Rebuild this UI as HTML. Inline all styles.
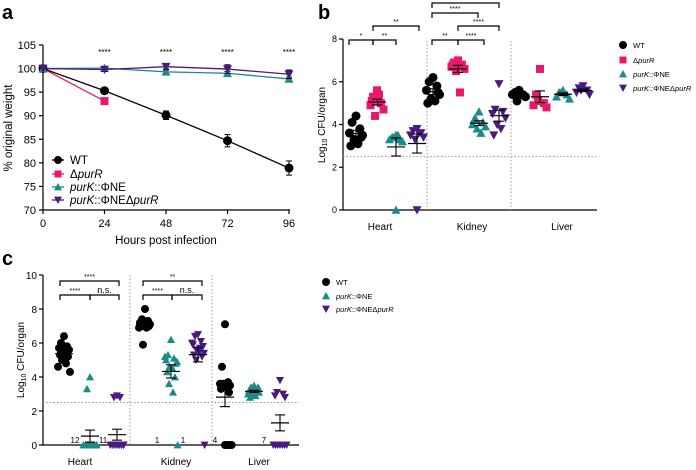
<!DOCTYPE html>
<html><head><meta charset="utf-8"><style>
html,body{margin:0;padding:0;background:#fff}
svg{display:block;font-family:"Liberation Sans",sans-serif}
</style></head><body>
<svg id="fig" width="696" height="470" viewBox="0 0 696 470" xmlns="http://www.w3.org/2000/svg">
<g id="static">
<text x="2" y="19" font-size="20" font-weight="bold">a</text>
<text x="318" y="19" font-size="20" font-weight="bold">b</text>
<text x="2" y="265" font-size="20" font-weight="bold">c</text>
<text x="166" y="244" font-size="11.5" text-anchor="middle">Hours post infection</text>
<text transform="translate(12,128) rotate(-90)" font-size="11.5" text-anchor="middle">% original weight</text>
<text transform="translate(325,125) rotate(-90)" font-size="10" text-anchor="middle">Log<tspan font-size="7" dy="2">10</tspan><tspan dy="-2"> CFU/organ</tspan></text>
<text transform="translate(24,360) rotate(-90)" font-size="10" text-anchor="middle">Log<tspan font-size="7" dy="2">10</tspan><tspan dy="-2"> CFU/organ</tspan></text>
</g>
<g id="dyn"></g>
</svg>
<script>
// ---------- Panel a data ----------
const aHours = [0, 24, 48, 72, 96];
const aYTicks = [70, 75, 80, 85, 90, 95, 100, 105];
const aWT = [100, 95.3, 90.1, 84.7, 78.9];
const aWTerr = [0, 0.4, 0.9, 1.3, 1.5];
const aPurR = [100, 93.1];
const aPhiNE = [100, 100.1, 99.3, 99.0, 97.8];
const aPhiNEerr = [0, 0.3, 0.4, 0.4, 0.4];
const aPhiNEpurR = [100, 99.8, 100.4, 99.9, 98.8];
const aPhiNEpurRerr = [0, 0.4, 0.5, 0.9, 0.9];
const aStars = ["", "****", "****", "****", "****"];
// ---------- Panel b data ----------
const bOrgans = ["Heart", "Kidney", "Liver"];
const bYTicks = [0, 2, 4, 6, 8];
const bHeartWT = [4.4, 4.1, 3.8, 3.6, 3.5, 3.3, 3.1, 3.0, 3.4];
const bHeartPurR = [5.6, 5.3, 5.0, 4.9, 4.7, 4.4, 5.4, 5.1];
const bHeartPhiNE = [3.5, 3.4, 3.3, 3.3, 3.2, 3.4, 3.5, 0];
const bHeartPhiNEpurR = [3.8, 3.7, 3.6, 3.5, 3.4, 3.3, 3.6, 0];
const bKidneyWT = [6.2, 6.0, 5.8, 5.6, 5.4, 5.2, 5.1, 5.0, 5.5];
const bKidneyPurR = [7.0, 6.9, 6.8, 6.7, 6.6, 6.5, 5.5, 6.8];
const bKidneyPhiNE = [4.6, 4.3, 4.1, 4.0, 3.9, 3.8, 3.6, 4.2];
const bKidneyPhiNEpurR = [5.9, 4.7, 4.6, 4.5, 4.3, 4.0, 3.8, 3.5];
const bLiverWT = [5.6, 5.5, 5.4, 5.4, 5.3, 5.1];
const bLiverPurR = [6.6, 5.4, 5.0, 4.9, 4.8, 5.1];
const bLiverPhiNE = [5.6, 5.5, 5.4, 5.3, 5.2, 5.5];
const bLiverPhiNEpurR = [5.8, 5.7, 5.6, 5.5, 5.4, 5.6];
// ---------- Panel c data ----------
const cOrgans = ["Heart", "Kidney", "Liver"];
const cYTicks = [0, 2, 4, 6, 8, 10];
const cHeartWT = [6.4, 6.0, 5.8, 5.7, 5.6, 5.5, 5.4, 5.3, 5.2, 5.0, 4.8, 4.6, 4.3, 5.6];
const cHeartPhiNE = [4.0, 3.3, 0,0,0,0,0,0,0,0,0,0,0,0];
const cHeartPhiNEpurR = [2.9, 2.8, 2.8, 0,0,0,0,0,0,0,0,0,0,0];
const cKidneyWT = [8.0, 7.4, 7.3, 7.2, 7.1, 7.0, 6.9, 7.2, 7.0, 5.9, 7.1, 6.9];
const cKidneyPhiNE = [6.2, 5.3, 5.1, 5.0, 4.8, 4.6, 4.5, 4.3, 4.0, 3.6, 3.1, 5.2, 4.9, 0];
const cKidneyPhiNEpurR = [6.5, 6.4, 6.1, 5.9, 5.8, 5.6, 5.5, 5.3, 5.2, 5.0, 5.7, 6.0, 5.4, 0];
const cLiverWT = [7.1, 4.6, 3.7, 3.6, 3.5, 3.5, 3.4, 3.3, 3.1, 3.6, 0, 0, 0, 0];
const cLiverPhiNE = [3.5, 3.4, 3.3, 3.2, 3.1, 3.0, 2.9, 2.8, 3.4, 3.2, 3.1, 3.0];
const cLiverPhiNEpurR = [3.8, 3.1, 3.0, 2.9, 2.8, 0, 0, 0, 0, 0, 0, 0];
const cCounts = ["12", "11", "1", "1", "4", "7"];

const NS = "http://www.w3.org/2000/svg";
const root = document.getElementById("dyn");
const C = {wt:"#000", purR:"#e8196b", ne:"#1c8a86", nep:"#4a1a80"};
function mk(tag, attrs, parent){const e=document.createElementNS(NS,tag);for(const k in attrs)e.setAttribute(k,attrs[k]);(parent||root).appendChild(e);return e;}
function line(x1,y1,x2,y2,st,w,dash){return mk("line",{x1,y1,x2,y2,stroke:st||"#000","stroke-width":w||1.2,"stroke-dasharray":dash||"none"});}
function txt(x,y,s,size,anchor,parent){const t=mk("text",{x,y,"font-size":size,"text-anchor":anchor||"start"},parent);t.textContent=s;return t;}
function marker(kind,x,y,s,col){
  let e;
  if(kind==="circle") e=mk("circle",{cx:x,cy:y,r:s/2,fill:col});
  else if(kind==="square") e=mk("rect",{x:x-s/2,y:y-s/2,width:s,height:s,fill:col});
  else if(kind==="up") e=mk("polygon",{points:`${x-s/2},${y+s*0.42} ${x+s/2},${y+s*0.42} ${x},${y-s*0.5}`,fill:col});
  else e=mk("polygon",{points:`${x-s/2},${y-s*0.42} ${x+s/2},${y-s*0.42} ${x},${y+s*0.5}`,fill:col});
  return e;
}
const kinds={wt:"circle",purR:"square",ne:"up",nep:"down"};

// ================= Panel a =================
const ax = h => 43 + h*(246/96);
const ay = v => 210 - (v-70)*(165/35);
line(43,ay(105),43,210);
line(43,210,290,210);
aYTicks.forEach(v=>{line(39,ay(v),43,ay(v));const t=txt(36,ay(v)+4,String(v),11,"end");});
aHours.forEach(h=>{line(ax(h),210,ax(h),214);const t=txt(ax(h),227,String(h),11,"middle");});
aStars.forEach((s,i)=>{if(s){const t=txt(ax(aHours[i]),55,s,8,"middle");}});
function aSeries(vals,errs,col,kind,sz,name){
  const pts=vals.map((v,i)=>`${ax(aHours[i])},${ay(v)}`).join(" ");
  const pl=mk("polyline",{points:pts,fill:"none",stroke:col,"stroke-width":1.3});
  
  vals.forEach((v,i)=>{
    const e=errs?errs[i]:0;
    if(e>0){const x=ax(aHours[i]);line(x,ay(v+e),x,ay(v-e),"#000",1);line(x-3,ay(v+e),x+3,ay(v+e),"#000",1);line(x-3,ay(v-e),x+3,ay(v-e),"#000",1);}
    const m=marker(kind,ax(aHours[i]),ay(v),sz,col);
    
  });
}
aSeries(aPurR,null,C.purR,"square",8,"a-purR");
aSeries(aWT,aWTerr,C.wt,"circle",9,"a-wt");
aSeries(aPhiNE,aPhiNEerr,C.ne,"up",9,"a-phine");
aSeries(aPhiNEpurR,aPhiNEpurRerr,C.nep,"down",9,"a-phine-purR");
const aLeg=[["wt",160],["purR",174],["ne",187],["nep",200]];
aLeg.forEach(([k,y])=>{
  line(52,y,64,y,C[k],1.3);
  const m=marker(kinds[k],58,y,k==="purR"?7:8,C[k]);
  const t=mk("text",{x:70,y:y+4,"font-size":11.5});
  
  t.innerHTML = k==="wt"?"WT":k==="purR"?'Δ<tspan font-style="italic">purR</tspan>':k==="ne"?'<tspan font-style="italic">purK</tspan>::ΦNE':'<tspan font-style="italic">purK</tspan>::ΦNEΔ<tspan font-style="italic">purR</tspan>';
});

// ================= dot plots =================
function sem(a){const m=a.reduce((s,v)=>s+v,0)/a.length;const sd=Math.sqrt(a.reduce((s,v)=>s+(v-m)*(v-m),0)/(a.length-1));return [m,sd/Math.sqrt(a.length)];}
function jit(i){const off=[0,-3,3,-5,5,-1.5,1.5,-4,4,-2,2,-6,6,0];return off[i%off.length];}
function dots(vals,x,yf,kind,col,sz,name,zeroSpread,scale){
  vals.forEach((v,i)=>{
    let dx=jit(i)*(scale||1);
    if(v===0&&zeroSpread){dx=((i%7)-3)*2.2;}
    if(v===0&&!zeroSpread){dx=0;}
    const m=marker(kind,x+dx,yf(v),sz,col);
    
  });
  const [m,se]=sem(vals);
  line(x-9,yf(m),x+9,yf(m),"#000",1.2);
  line(x,yf(m+se),x,yf(m-se),"#000",1.1);
  line(x-5,yf(m+se),x+5,yf(m+se),"#000",1.1);
  line(x-5,yf(m-se),x+5,yf(m-se),"#000",1.1);
}
function bracket(x1,x2,y,label,size){
  mk("path",{d:`M${x1},${y+5} V${y} H${x2} V${y+5}`,fill:"none",stroke:"#000","stroke-width":1.2});
  const t=txt((x1+x2)/2,y-2,label,size||7,"middle");
}

// ================= Panel b =================
const by = v => 210 - v*(171/8);
line(343,by(8),343,210);
line(343,210,597,210);
bYTicks.forEach(v=>{line(339,by(v),343,by(v));const t=txt(337,by(v)+3,String(v),9,"end");});
line(427,by(8)+2,427,210,"#999",1,"1.5,2");line(511,by(8)+2,511,210,"#999",1,"1.5,2");
line(343,by(2.5),597,by(2.5),"#999",1,"1.5,2");
const bCenters=[380,472,562];
bOrgans.forEach((o,i)=>{const t=txt(bCenters[i],230,o,10,"middle");});
const bCols=[[356,377,396,417],[433,458,479,499],[519,540,563,583]];
const bData=[[bHeartWT,bHeartPurR,bHeartPhiNE,bHeartPhiNEpurR],[bKidneyWT,bKidneyPurR,bKidneyPhiNE,bKidneyPhiNEpurR],[bLiverWT,bLiverPurR,bLiverPhiNE,bLiverPhiNEpurR]];
const ord=["wt","purR","ne","nep"];
bData.forEach((grp,gi)=>grp.forEach((vals,si)=>dots(vals,bCols[gi][si],by,kinds[ord[si]],C[ord[si]],ord[si]==="purR"?8:9,"b-"+bOrgans[gi].toLowerCase()+"-"+ord[si],false,1.3)));
bracket(349,373,40,"*");bracket(373,396,40,"**");bracket(373,419,26,"**");
bracket(432,458,40,"**");bracket(458,484,40,"****");bracket(458,499,26,"****");bracket(432,478,13,"****");bracket(432,499,3,"**");
const bLeg=[["wt",45],["purR",60],["ne",74],["nep",88]];
bLeg.forEach(([k,y])=>{
  const m=marker(kinds[k],623,y,k==="purR"?7:8,C[k]);
  const t=mk("text",{x:633,y:y+3,"font-size":7.6});
  
  t.innerHTML = k==="wt"?"WT":k==="purR"?'Δ<tspan font-style="italic">purR</tspan>':k==="ne"?'<tspan font-style="italic">purK</tspan>::ΦNE':'<tspan font-style="italic">purK</tspan>::ΦNEΔ<tspan font-style="italic">purR</tspan>';
});

// ================= Panel c =================
const cy = v => 445 - v*17;
line(43,cy(10),43,445);
line(43,445,299,445);
cYTicks.forEach(v=>{line(39,cy(v),43,cy(v));const t=txt(37,cy(v)+4,String(v),10,"end");});
line(130,cy(10),130,445,"#999",1,"1.5,2");line(212,cy(10),212,445,"#999",1,"1.5,2");
line(43,cy(2.5),299,cy(2.5),"#999",1,"1.5,2");
const cCenters=[80,176,259];
cOrgans.forEach((o,i)=>{const t=txt(cCenters[i],465,o,10,"middle");});
const cCols=[[64,90,117],[145,171,198],[225,254,280]];
const cData=[[cHeartWT,cHeartPhiNE,cHeartPhiNEpurR],[cKidneyWT,cKidneyPhiNE,cKidneyPhiNEpurR],[cLiverWT,cLiverPhiNE,cLiverPhiNEpurR]];
const cOrd=["wt","ne","nep"];
cData.forEach((grp,gi)=>grp.forEach((vals,si)=>dots(vals,cCols[gi][si],cy,kinds[cOrd[si]],C[cOrd[si]],8,"c-"+cOrgans[gi].toLowerCase()+"-"+cOrd[si],true,1)));
bracket(60,119,281,"****");bracket(60,90,295,"****");bracket(90,119,295,"n.s.",9);
bracket(143,202,281,"**");bracket(143,172,295,"****");bracket(172,202,295,"n.s.",9);
const cCountX=[75,103,157,183,215,264];
cCounts.forEach((s,i)=>{const t=txt(cCountX[i],443,s,8,"middle");});
const cLeg=[["wt",282],["ne",296],["nep",309]];
cLeg.forEach(([k,y])=>{
  const m=marker(kinds[k],326,y,8,C[k]);
  const t=mk("text",{x:336,y:y+3,"font-size":7.5});
  
  t.innerHTML = k==="wt"?"WT":k==="ne"?'<tspan font-style="italic">purK</tspan>::ΦNE':'<tspan font-style="italic">purK</tspan>::ΦNEΔ<tspan font-style="italic">purR</tspan>';
});
</script>
</body></html>
